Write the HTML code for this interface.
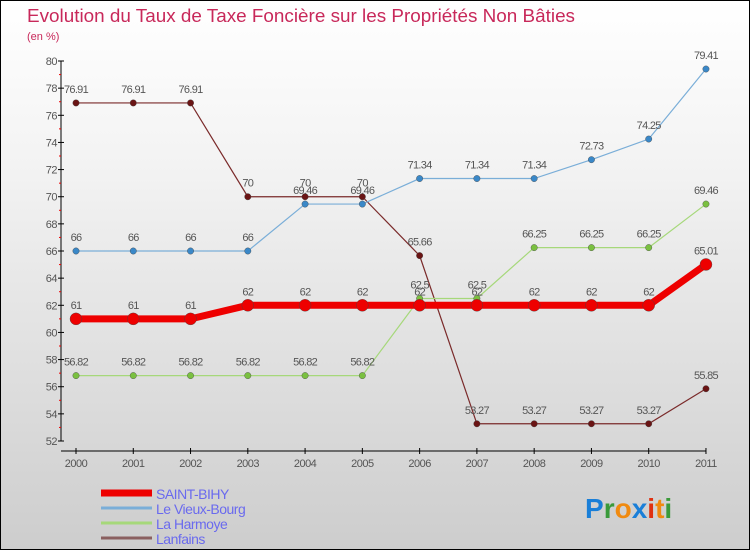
<!DOCTYPE html>
<html><head><meta charset="utf-8"><style>
body{margin:0}
#c{width:748px;height:548px;border:1px solid #000;background:linear-gradient(#fff,#f3f3f3 30%,#cdcdcd);position:relative;overflow:hidden;font-family:"Liberation Sans",sans-serif}
svg text{font-family:"Liberation Sans",sans-serif}
</style></head><body>
<div id="c">
<svg id="s" width="748" height="548">
<text x="26" y="21" font-size="18" fill="#c8285a" textLength="548" lengthAdjust="spacingAndGlyphs">Evolution du Taux de Taxe Foncière sur les Propriétés Non Bâties</text>
<text x="26" y="39" font-size="11" fill="#c8285a">(en %)</text>
<g id="g"></g>
<text x="584" y="517" font-size="28" font-weight="bold"><tspan fill="#1a7fd8">P</tspan><tspan fill="#3a9a3a">r</tspan><tspan fill="#f08a10">o</tspan><tspan fill="#1a7fd8">x</tspan><tspan fill="#e03010">i</tspan><tspan fill="#f08a10">t</tspan><tspan fill="#3a9a3a">i</tspan></text>
</svg></div>
<script>
const years=[2000,2001,2002,2003,2004,2005,2006,2007,2008,2009,2010,2011];
const saintBihy=[61,61,61,62,62,62,62,62,62,62,62,65.01];
const vieuxBourg=[66,66,66,66,69.46,69.46,71.34,71.34,71.34,72.73,74.25,79.41];
const harmoye=[56.82,56.82,56.82,56.82,56.82,56.82,62.5,62.5,66.25,66.25,66.25,69.46];
const lanfains=[76.91,76.91,76.91,70,70,70,65.66,53.27,53.27,53.27,53.27,55.85];
const yTicks=[52,54,56,58,60,62,64,66,68,70,72,74,76,78,80];
const seriesNames=["SAINT-BIHY","Le Vieux-Bourg","La Harmoye","Lanfains"];
const NS="http://www.w3.org/2000/svg";
const g=document.getElementById('g');
const X=i=>75+i*57.27, Y=v=>440-(v-52)*13.571;
function el(t,a,p){const e=document.createElementNS(NS,t);for(const k in a)e.setAttribute(k,a[k]);(p||g).appendChild(e);return e;}
function fmt(v){return String(+v.toFixed(2)).replace(/\.(\d)0$/,'.$1');}
let ax=el('line',{x1:60,y1:60,x2:60,y2:440,stroke:'#000'});

let bx=el('line',{x1:60,y1:450,x2:705,y2:450,stroke:'#000'});

yTicks.forEach(v=>{
 el('line',{x1:57,x2:63,y1:Y(v),y2:Y(v),stroke:'#000'});
 if(v<80)el('line',{x1:58,x2:60,y1:Y(v+1),y2:Y(v+1),stroke:'#e00'});
 const t=el('text',{x:56,y:Y(v)+4,'font-size':11,fill:'#555','text-anchor':'end','letter-spacing':'-0.5'});t.textContent=v;
 
});
years.forEach((y,i)=>{
 el('line',{x1:X(i),x2:X(i),y1:447,y2:453,stroke:'#000'});
 const t=el('text',{x:X(i),y:466,'font-size':11,fill:'#555','text-anchor':'middle','letter-spacing':'-0.5'});t.textContent=y;
 
});
const defs=[[lanfains,'#7a2a2a','#6a1414',1.2,3.2,'lanfains'],[harmoye,'#a6d87a','#7ac040',1.2,3.2,'la-harmoye'],[vieuxBourg,'#7aaed8','#3a88c8',1.2,3.2,'le-vieux-bourg'],[saintBihy,'#ee0000','#ee0000',7,6,'saint-bihy']];
defs.forEach(([d,lc,pc,w,r,n])=>{
 const p=el('polyline',{points:d.map((v,i)=>X(i)+','+Y(v)).join(' '),fill:'none',stroke:lc,'stroke-width':w});
 
 d.forEach((v,i)=>{
  const c=el('circle',{cx:X(i),cy:Y(v),r:r,fill:pc,stroke:'#444','stroke-width':0.4});
  
  const t=el('text',{x:X(i),y:Y(v)-10,'font-size':11,fill:'#555','text-anchor':'middle','letter-spacing':'-0.7'});t.textContent=fmt(v);
  
 });
});
const lc=['#ee0000','#7aaed8','#a6d87a','#8a6060'],lw=[7,3,3,3];
seriesNames.forEach((s,i)=>{
 const yy=492+i*15;
 const l=el('line',{x1:100,x2:151,y1:yy,y2:yy,stroke:lc[i],'stroke-width':lw[i]});
 
 const t=el('text',{x:155,y:yy+6,'font-size':14,fill:'#6a6aee','letter-spacing':'-0.5'});t.textContent=s;
 
});
</script></body></html>
